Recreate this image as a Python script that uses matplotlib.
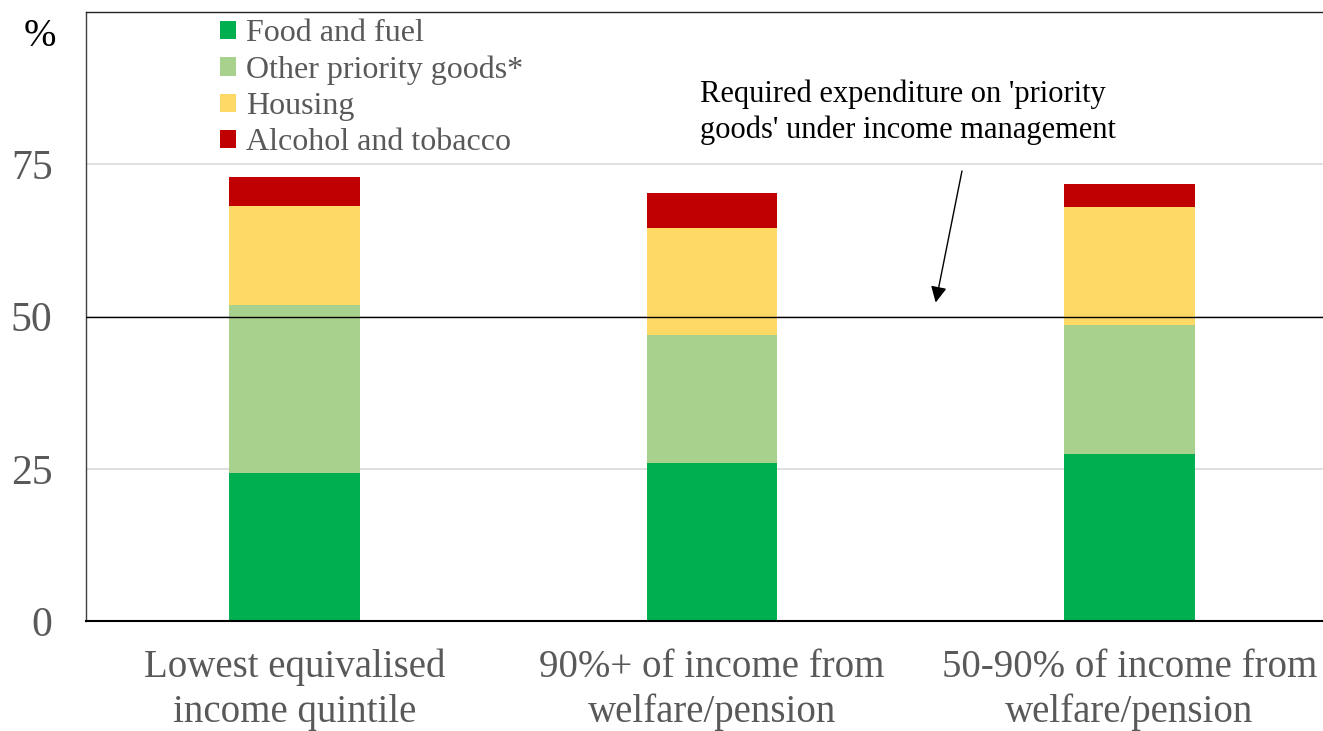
import matplotlib
matplotlib.use("Agg")
import matplotlib.pyplot as plt
import numpy as np

plt.rcParams['font.family'] = ['Liberation Serif', 'DejaVu Serif']

categories = ["Lowest equivalised\nincome quintile",
              "90%+ of income from\nwelfare/pension",
              "50-90% of income from\nwelfare/pension"]
series_names = ["Food and fuel", "Other priority goods*", "Housing", "Alcohol and tobacco"]
food_fuel = [24.3, 26.0, 27.5]
other_priority = [27.6, 20.9, 21.1]
housing = [16.2, 17.6, 19.3]
alcohol_tobacco = [4.85, 5.8, 3.85]
colors = ["#00B050", "#A9D18E", "#FFD966", "#C00000"]
required_share = 50
y_ticks = [0, 25, 50, 75]

W, H = 1323, 731
fig = plt.figure(figsize=(W / 100, H / 100), dpi=100)
ax = fig.add_axes([86 / W, (H - 621) / H, 1252 / W, 609 / H])

x = np.arange(len(categories))
bottom = np.zeros(len(categories))
handles = []
for name, vals, col in zip(series_names,
                           [food_fuel, other_priority, housing, alcohol_tobacco],
                           colors):
    b = ax.bar(x, vals, width=0.313, bottom=bottom, color=col, label=name, zorder=2)
    handles.append(b)
    bottom += np.array(vals)

ax.set_xlim(-0.5, 2.5)
ax.set_ylim(0, 100)
ax.set_yticks(y_ticks)
ax.set_yticklabels([str(t) for t in y_ticks], fontsize=30, color="#595959")
ax.set_xticks(x)
ax.set_xticklabels(categories, fontsize=28, color="#595959", linespacing=1.26)
ax.tick_params(axis="y", length=0, pad=24)
ax.tick_params(axis="x", length=0, pad=20)

ax.yaxis.grid(True, color="#D9D9D9", linewidth=1.2, zorder=0)
ax.set_axisbelow(True)
ax.axhline(required_share, color="black", linewidth=1.0, zorder=3)

ax.spines["top"].set_color("#222222")
ax.spines["top"].set_linewidth(1.0)
ax.spines["left"].set_color("#404040")
ax.spines["left"].set_linewidth(1.0)
ax.spines["bottom"].set_color("black")
ax.spines["bottom"].set_linewidth(1.5)
ax.spines["right"].set_visible(False)

fig.text(40 / W, 1 - 36 / H, "%", fontsize=28, color="black", ha="center", va="center")

leg = ax.legend(handles=handles, loc="upper left",
                bbox_to_anchor=(214 / W, 1 - 13 / H), bbox_transform=fig.transFigure,
                frameon=False, fontsize=23, handlelength=0.5, handleheight=0.5,
                handletextpad=0.3, labelspacing=0.22, borderaxespad=0, borderpad=0.2)
for t in leg.get_texts():
    t.set_color("#595959")

# label for the 50% requirement line
fig.text(700 / W, 1 - 112 / H,
         "Required expenditure on 'priority\ngoods' under income management",
         fontsize=22, color="black", ha="left", va="center", linespacing=1.28)
ax.annotate("", xy=(1.536, 52.3), xytext=(1.599, 73.9), textcoords="data",
            arrowprops=dict(arrowstyle="-|>", color="black", lw=1.0,
                            mutation_scale=24, shrinkA=0, shrinkB=0),
            annotation_clip=False)

fig.savefig("out.png", dpi=100)
